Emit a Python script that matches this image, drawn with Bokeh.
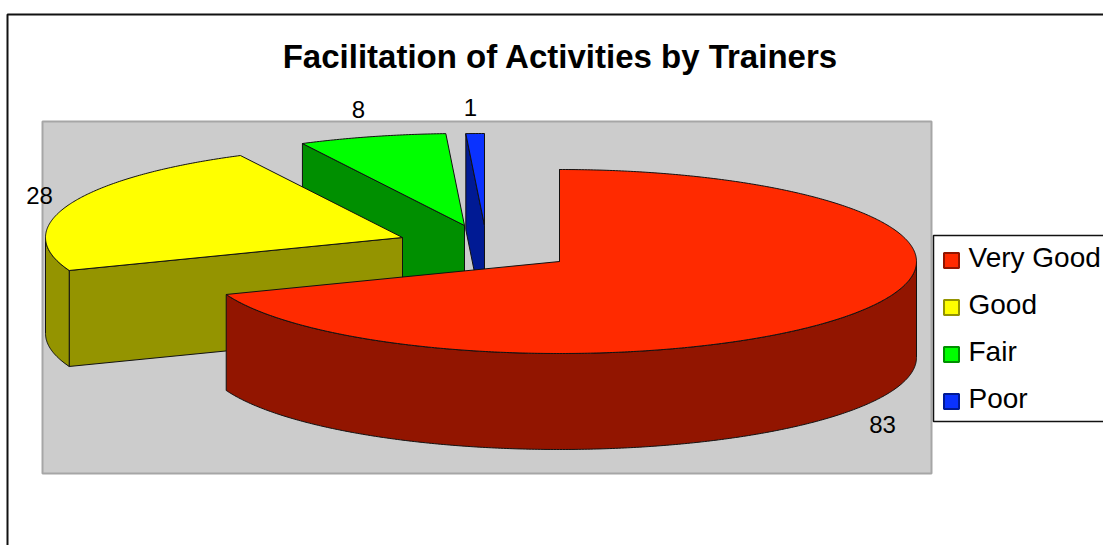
import numpy as np
from bokeh.core.properties import value
from bokeh.embed import file_html
from bokeh.models import Range1d
from bokeh.plotting import figure
from bokeh.resources import INLINE

# Data
title = "Facilitation of Activities by Trainers"
categories = ["Very Good", "Good", "Fair", "Poor"]
values = [83, 28, 8, 1]
top_colors = ["#FF2A00", "#FFFF00", "#00FF00", "#0A32FF"]
side_colors = ["#921500", "#949400", "#008F00", "#001A94"]

# Layout of the projected pie (chart pixels)
W, H = 1103, 545
RX, RY, DEPTH = 357, 92, 96
centers = [(559, 261), (402, 237), (464, 225), (484, 225)]
label_pos = [(882, 424), (39, 195), (358, 109), (470, 107)]
legend_y = [257, 304, 351, 398]

p = figure(width=W, height=H, output_backend="svg", toolbar_location=None,
           x_range=Range1d(0, W), y_range=Range1d(H, 0), min_border=0,
           tools="", background_fill_color="white", border_fill_color="white")
p.axis.visible = False
p.grid.visible = False
p.outline_line_color = None

# Outer chart frame (only left and top are on the page)
p.line([7, 7, W + 5], [H + 5, 14, 14], line_color="#111111", line_width=2)

# Plot area
p.quad(left=[42], right=[931], top=[121], bottom=[473], fill_color="#CCCCCC",
       line_color="#A6A6A6", line_width=2)


def rim(cx, cy, a0, a1, dy=0):
    n = max(2, int(abs(a1 - a0) * 2) + 1)
    t = np.radians(np.linspace(a0, a1, n))
    return cx + RX * np.sin(t), cy - RY * np.cos(t) + dy


total = sum(values)
edges = np.concatenate([[0], np.cumsum(values)]) * 360.0 / total
edge_style = dict(line_color="#111111", line_width=1)

# Paint from the back slice to the front one
for i in range(len(values) - 1, -1, -1):
    cx, cy = centers[i]
    a0, a1 = edges[i], edges[i + 1]
    # wall along the slice's starting cut
    x0, y0 = rim(cx, cy, a0, a0)
    p.patch([x0[0], cx, cx, x0[0]], [y0[0], cy, cy + DEPTH, y0[0] + DEPTH],
            fill_color=side_colors[i], **edge_style)
    # curved outer wall, only the part that faces the viewer
    r0, r1 = max(a0, 90), min(a1, 270)
    if r1 > r0:
        xt, yt = rim(cx, cy, r0, r1)
        xb, yb = rim(cx, cy, r0, r1, DEPTH)
        p.patch(np.concatenate([xt, xb[::-1]]), np.concatenate([yt, yb[::-1]]),
                fill_color=side_colors[i], **edge_style)
    # top face
    xt, yt = rim(cx, cy, a0, a1)
    p.patch(np.concatenate([[cx], xt]), np.concatenate([[cy], yt]),
            fill_color=top_colors[i], **edge_style)

# Title
p.text([560], [56], text=[title], text_font=value("Liberation Sans"), text_font_style="bold",
       text_font_size="33px", text_align="center", text_baseline="middle", text_color="black")

# Data labels
p.text([q[0] for q in label_pos], [q[1] for q in label_pos], text=[str(v) for v in values],
       text_font=value("Liberation Sans"), text_font_size="24px", text_align="center",
       text_baseline="middle", text_color="black")

# Legend
p.quad(left=[933], right=[W + 10], top=[235], bottom=[421], fill_color="white",
       line_color="#111111", line_width=1.5)
p.rect([951] * 4, [y + 3 for y in legend_y], width=15, height=15, fill_color=top_colors,
       line_color=side_colors, line_width=2)
p.text([968] * 4, legend_y, text=categories,
       text_font=value("Liberation Sans"), text_font_size="28px", text_align="left",
       text_baseline="middle", text_color="black")

open("out.html", "w").write(file_html(p, INLINE))
